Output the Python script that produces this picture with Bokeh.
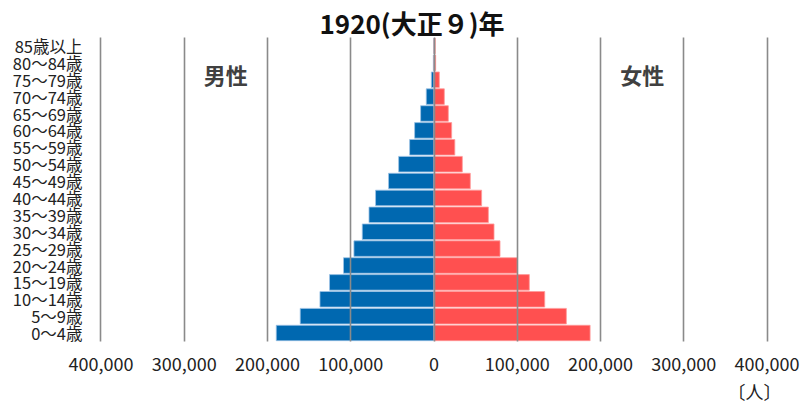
from bokeh.plotting import figure
from bokeh.models import FactorRange, Range1d, FixedTicker, Title, ColumnDataSource
from bokeh.core.properties import value
from bokeh.embed import file_html
from bokeh.resources import INLINE

ages = ["0～4歳", "5～9歳", "10～14歳", "15～19歳", "20～24歳", "25～29歳",
        "30～34歳", "35～39歳", "40～44歳", "45～49歳", "50～54歳", "55～59歳",
        "60～64歳", "65～69歳", "70～74歳", "75～79歳", "80～84歳", "85歳以上"]
male = [189500, 160700, 137000, 125500, 108700, 96200, 86200, 78100, 70200,
        54600, 42500, 29300, 23300, 16100, 9300, 3200, 800, 200]
female = [187500, 159000, 133000, 114500, 100100, 79300, 72100, 65300, 57200,
          43600, 34000, 25000, 21200, 17200, 12400, 6400, 2000, 1500]
x_ticks = [-400000, -300000, -200000, -100000, 0, 100000, 200000, 300000, 400000]
title_text = "1920(大正９)年"
sex_labels = ["男性", "女性"]
unit_text = "〔人〕"

FONT = "Noto Sans CJK JP"

src = ColumnDataSource(dict(
    age=ages,
    male=[-v for v in male],
    female=female,
))

pad = 1800
p = figure(width=801, height=406, output_backend="svg", toolbar_location=None,
           y_range=FactorRange(*ages),
           x_range=Range1d(x_ticks[0] - pad, x_ticks[-1] + pad),
           min_border_left=99, min_border_right=33, min_border_top=37,
           min_border_bottom=65)
p.outline_line_color = None
p.background_fill_color = "white"

p.title = Title(text=title_text, align="left", offset=220, standoff=-7,
                text_font=FONT, text_font_size="26px", text_font_style="bold",
                text_color="#111111")

p.hbar(y="age", left=0, right="male", height=0.92, source=src,
       fill_color="#0068B0", line_color="#9DC3E6", line_width=0.8)
p.hbar(y="age", left=0, right="female", height=0.92, source=src,
       fill_color="#FF5050", line_color="#FF9A9A", line_width=0.8)

# gridlines
p.ygrid.grid_line_color = None
p.xgrid.ticker = FixedTicker(ticks=x_ticks)
p.xgrid.grid_line_color = "#8A8A8A"
p.xgrid.grid_line_width = 1.6
p.xgrid.level = "overlay"

# x axis
p.xaxis.ticker = FixedTicker(ticks=x_ticks)
p.xaxis.major_label_overrides = {t: f"{abs(t):,}" for t in x_ticks}
p.xaxis.axis_line_color = None
p.xaxis.major_tick_line_color = None
p.xaxis.minor_tick_line_color = None
p.xaxis.major_tick_out = 0
p.xaxis.major_tick_in = 0
p.xaxis.major_label_standoff = 15
p.xaxis.major_label_text_font = FONT
p.xaxis.major_label_text_font_size = "18px"
p.xaxis.major_label_text_color = "#222222"

# y axis
p.yaxis.axis_line_color = None
p.yaxis.major_tick_line_color = None
p.yaxis.minor_tick_line_color = None
p.yaxis.major_tick_out = 0
p.yaxis.major_tick_in = 0
p.yaxis.major_label_standoff = 17
p.yaxis.major_label_text_font = FONT
p.yaxis.major_label_text_font_size = "16.5px"
p.yaxis.major_label_text_color = "#222222"

# sex labels
p.text(x=[-250000, 250000], y=[15.85, 15.85], text=sex_labels,
       text_font=value(FONT), text_font_size="22px", text_font_style="bold",
       text_color="#404040", text_align="center", text_baseline="middle")

# unit
p.add_layout(Title(text=unit_text, align="right", offset=-13, standoff=5,
                   text_font=FONT, text_font_size="18px", text_font_style="normal",
                   text_color="#222222"), "below")

open("out.html", "w").write(file_html(p, INLINE))
